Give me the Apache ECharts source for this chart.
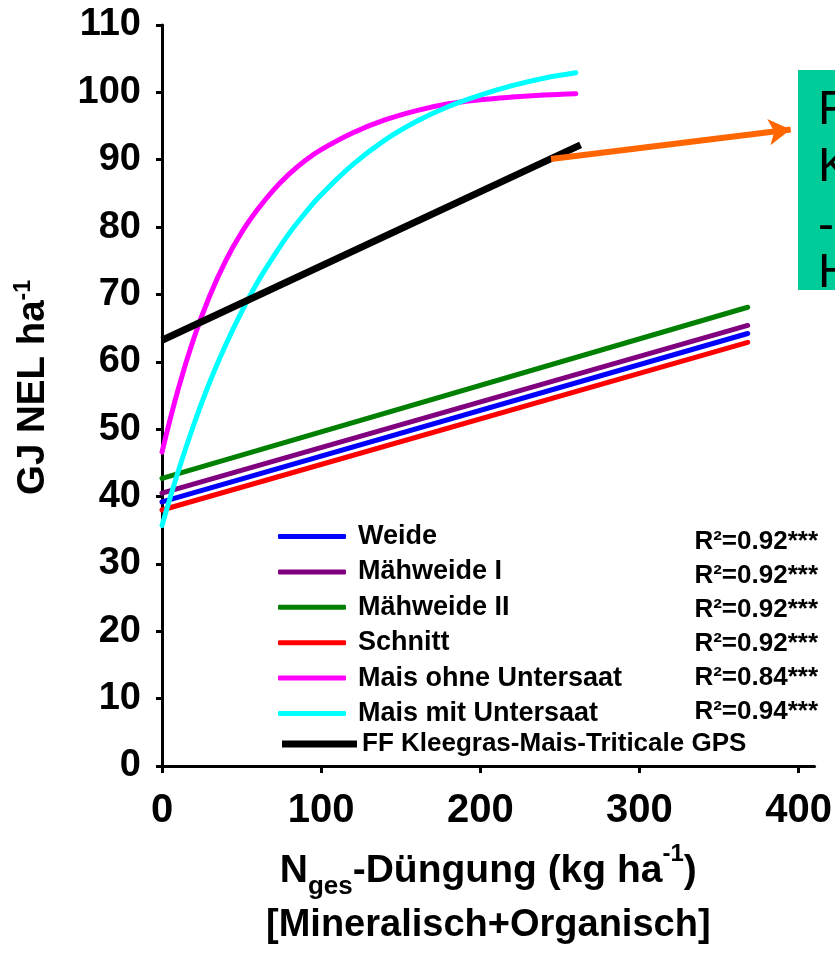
<!DOCTYPE html>
<html>
<head>
<meta charset="utf-8">
<script src="https://cdn.jsdelivr.net/npm/echarts@6/dist/echarts.min.js"></script>
<style>html,body{margin:0;padding:0;background:#fff;}#c{width:835px;height:954px;}</style>
</head>
<body>
<div id="c"></div>
<script>
// ---- data ----
const xTicks = [0, 100, 200, 300, 400];
const xLinear = [0, 368];
const weide = [39.2, 64.2];
const maehweide1 = [40.5, 65.4];
const maehweide2 = [42.7, 68.1];
const schnitt = [38.0, 62.9];
const xMais = [0, 10, 20, 30, 40, 50, 60, 70, 80, 90, 100, 120, 140, 160, 180, 200, 220, 240, 260];
const maisOhne = [46.6, 55.8, 63.5, 69.8, 75.0, 79.2, 82.6, 85.5, 87.9, 89.9, 91.5, 94.0, 95.9, 97.3, 98.3, 98.9, 99.3, 99.6, 99.8];
const maisMit = [35.7, 43.6, 50.7, 57.0, 62.5, 67.4, 71.8, 75.6, 79.1, 82.1, 84.8, 89.3, 92.9, 95.7, 97.9, 99.6, 101.0, 102.1, 102.9];
const xFF = [0, 263];
const ffKleegras = [63.2, 92.2];
const names = ['Weide', 'Mähweide I', 'Mähweide II', 'Schnitt', 'Mais ohne Untersaat', 'Mais mit Untersaat'];
const ffName = 'FF Kleegras-Mais-Triticale GPS';
const r2Labels = ['R²=0.92***', 'R²=0.92***', 'R²=0.92***', 'R²=0.92***', 'R²=0.84***', 'R²=0.94***'];
const boxLetters = ['F', 'K', '-', 'H'];
const arrowFrom = [244.4, 90.1];
const arrowTo = [395, 94.5];

const FONT = 'Liberation Sans, Arial, Helvetica, sans-serif';
const zip = (xs, ys) => xs.map((x, i) => [x, ys[i]]);

const chart = echarts.init(document.getElementById('c'), null, {renderer: 'canvas'});

function lineSeries(name, xs, ys, color, width, smooth) {
  return {
    name: name, type: 'line', data: zip(xs, ys), smooth: smooth || false,
    showSymbol: false, symbol: 'none', silent: true,
    lineStyle: {color: color, width: width, cap: 'round'},
    itemStyle: {color: color},
    z: 3
  };
}

const series = [
  lineSeries(names[0], xLinear, weide, '#0000FF', 5),
  lineSeries(names[1], xLinear, maehweide1, '#800080', 5),
  lineSeries(names[2], xLinear, maehweide2, '#008000', 5),
  lineSeries(names[3], xLinear, schnitt, '#FF0000', 5),
  lineSeries(names[4], xMais, maisOhne, '#FF00FF', 5, 0.4),
  lineSeries(names[5], xMais, maisMit, '#00FFFF', 5, 0.4),
  lineSeries(ffName, xFF, ffKleegras, '#000000', 7)
];
series[6].lineStyle.cap = 'butt';
series[6].markLine = {
  silent: true,
  symbol: ['none', 'arrow'],
  symbolSize: [20, 22],
  label: {show: false},
  lineStyle: {color: '#FF6600', width: 6, type: 'solid'},
  emphasis: {disabled: true},
  data: [[{coord: arrowFrom}, {coord: arrowTo}]]
};

const graphic = [];
r2Labels.forEach((t, i) => {
  graphic.push({
    type: 'text', x: 818, y: 542 + i * 34, z: 10,
    style: {text: t, font: 'bold 26px ' + FONT, fill: '#000', align: 'right', verticalAlign: 'middle'}
  });
});
graphic.push({type: 'rect', x: 798, y: 70, z: 5, shape: {x: 0, y: 0, width: 60, height: 220}, style: {fill: '#00CC99'}});
const letterY = [111, 168, 227, 274];
boxLetters.forEach((t, i) => {
  graphic.push({type: 'text', x: 818, y: letterY[i], z: 6,
    style: {text: t, font: '48px ' + FONT, fill: '#000', align: 'left', verticalAlign: 'middle'}});
});

const option = {
  backgroundColor: '#ffffff',
  animation: false,
  grid: {left: 162, right: 17, top: 25, bottom: 188, containLabel: false},
  xAxis: {
    type: 'value', min: 0, max: 410, interval: 100,
    axisLine: {show: true, lineStyle: {color: '#000', width: 3}},
    axisTick: {show: true, length: 7, lineStyle: {color: '#000', width: 3}, customValues: xTicks},
    axisLabel: {customValues: xTicks, margin: 25, color: '#000', fontSize: 40, fontWeight: 'bold', fontFamily: FONT},
    splitLine: {show: false},
    name: '{n|N}{sub|ges}{n|-Düngung (kg ha}{sup|-1}{n|)}\n{m|[Mineralisch+Organisch]}',
    nameLocation: 'middle', nameGap: 76,
    nameTextStyle: {
      color: '#000', fontFamily: FONT, fontWeight: 'bold',
      rich: {
        n: {fontSize: 39, fontWeight: 'bold', fontFamily: FONT, color: '#000', lineHeight: 58, verticalAlign: 'middle'},
        m: {fontSize: 38, fontWeight: 'bold', fontFamily: FONT, color: '#000', lineHeight: 52, verticalAlign: 'middle'},
        sub: {fontSize: 26, fontWeight: 'bold', fontFamily: FONT, color: '#000', lineHeight: 26, verticalAlign: 'bottom'},
        sup: {fontSize: 24, fontWeight: 'bold', fontFamily: FONT, color: '#000', lineHeight: 42, verticalAlign: 'top'}
      }
    }
  },
  yAxis: {
    type: 'value', min: 0, max: 110, interval: 10,
    axisLine: {show: true, lineStyle: {color: '#000', width: 3}},
    axisTick: {show: true, length: 6, lineStyle: {color: '#000', width: 3}},
    axisLabel: {margin: 21, color: '#000', fontSize: 38, fontWeight: 'bold', fontFamily: FONT},
    splitLine: {show: false},
    name: '{n|GJ NEL ha}{sup|-1}',
    nameLocation: 'middle', nameGap: 108,
    nameTextStyle: {
      color: '#000', fontFamily: FONT, fontWeight: 'bold', padding: [0, 0, 0, 16],
      rich: {
        n: {fontSize: 38.5, fontWeight: 'bold', fontFamily: FONT, color: '#000', lineHeight: 42, verticalAlign: 'middle'},
        sup: {fontSize: 23, fontWeight: 'bold', fontFamily: FONT, color: '#000', lineHeight: 36, verticalAlign: 'top'}
      }
    }
  },
  legend: [
    {
      data: names, orient: 'vertical', left: 273, top: 518,
      icon: 'roundRect', itemWidth: 68, itemHeight: 5, itemGap: 8.4,
      selectedMode: false,
      textStyle: {color: '#000', fontSize: 27, fontWeight: 'bold', fontFamily: FONT, lineHeight: 26, padding: [0, 0, 0, 7]}
    },
    {
      data: [ffName], orient: 'vertical', left: 277, top: 726,
      icon: 'rect', itemWidth: 75, itemHeight: 7, itemGap: 10,
      selectedMode: false,
      textStyle: {color: '#000', fontSize: 26, fontWeight: 'bold', fontFamily: FONT, lineHeight: 26, padding: [0, 0, 0, 0]}
    }
  ],
  graphic: graphic,
  series: series
};
chart.setOption(option);
</script>
</body>
</html>
